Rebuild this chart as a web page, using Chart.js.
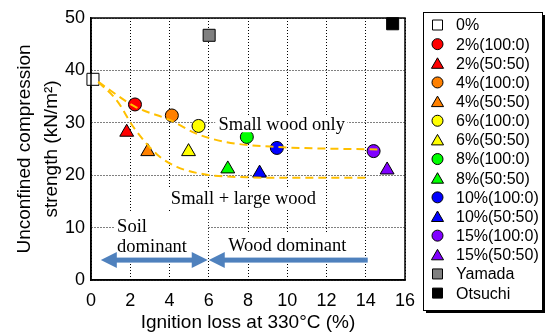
<!DOCTYPE html>
<html>
<head>
<meta charset="utf-8">
<script src="https://cdn.jsdelivr.net/npm/chart.js@4.4.0/dist/chart.umd.min.js"></script>
<style>
  body { margin: 0; background: #fff; }
  #wrap { width: 548px; height: 333px; }
</style>
</head>
<body>
<div id="wrap"><canvas id="ucsChart" width="548" height="333"></canvas></div>
<script>
// series
var seriesNames = ['0%', '2%(100:0)', '2%(50:50)', '4%(100:0)', '4%(50:50)', '6%(100:0)', '6%(50:50)',
  '8%(100:0)', '8%(50:50)', '10%(100:0)', '10%(50:50)', '15%(100:0)', '15%(50:50)', 'Yamada', 'Otsuchi'];
var ignitionLoss = [0.1, 2.24, 1.82, 4.12, 2.89, 5.48, 4.97, 7.94, 6.97, 9.47, 8.59, 14.4, 15.09, 6.02, 15.37];
var strength = [38.3, 33.5, 28.2, 31.4, 24.5, 29.4, 24.5, 27.3, 21.2, 25.2, 20.4, 24.6, 21.0, 46.7, 48.9];
var fillColors = ['#ffffff', '#ff0000', '#ff0000', '#ff8000', '#ff8000', '#ffff00', '#ffff00',
  '#00ff00', '#00ff00', '#0000ff', '#0000ff', '#8000ff', '#8000ff', '#808080', '#000000'];
var shapes = ['rect', 'circle', 'triangle', 'circle', 'triangle', 'circle', 'triangle',
  'circle', 'triangle', 'circle', 'triangle', 'circle', 'triangle', 'rect', 'rect'];

// dashed trend curves
var upperCurveX = [0.37, 2.24, 4.03, 5.39, 6.92, 9.47, 14.74];
var upperCurveY = [37.8, 33.1, 30.5, 27.9, 26.3, 25.4, 24.9];
var lowerCurveX = [0.37, 1.31, 2.16, 3.35, 4.37, 5.9, 8.0, 10.0, 14.07];
var lowerCurveY = [37.8, 34.3, 29.2, 24.0, 21.6, 20.1, 19.6, 19.5, 19.5];

var xTicksStep = 2, xMax = 16;
var yTicksStep = 10, yMax = 50;

var sans = "'Liberation Sans', Arial, sans-serif";
var serif = "'Liberation Serif', 'Times New Roman', serif";
Chart.defaults.font.family = sans;
Chart.defaults.color = '#000';

function radiusFor(shape) {
  if (shape == 'rect') return 8.5;
  if (shape == 'triangle') return 8;
  return 6.5;
}

var datasets = [];
for (var i = 0; i < seriesNames.length; i++) {
  datasets.push({
    label: seriesNames[i],
    data: [{x: ignitionLoss[i], y: strength[i]}],
    pointStyle: shapes[i],
    pointRadius: radiusFor(shapes[i]),
    pointHoverRadius: radiusFor(shapes[i]),
    backgroundColor: fillColors[i],
    borderColor: '#000',
    pointBorderWidth: 1,
    showLine: false,
    clip: false,
    order: 1
  });
}

function curveData(xs, ys) {
  var out = [];
  for (var i = 0; i < xs.length; i++) out.push({x: xs[i], y: ys[i]});
  return out;
}
[[upperCurveX, upperCurveY], [lowerCurveX, lowerCurveY]].forEach(function (c) {
  datasets.push({
    label: '_curve',
    type: 'line',
    data: curveData(c[0], c[1]),
    borderColor: '#ffc000',
    borderWidth: 2,
    borderDash: [8, 5],
    pointRadius: 0,
    tension: 0.4,
    cubicInterpolationMode: 'monotone',
    fill: false,
    order: -1
  });
});

// text notes on the plot (anchor in data units, white box behind)
var notes = [
  {lines: ['Small wood only'], x: 9.72, y: 29.5, align: 'center', box: [6.33, 13.06, 28.2, 31.4]},
  {lines: ['Small + large wood'], x: 7.77, y: 15.4, align: 'center', box: [3.93, 11.58, 13.7, 17.5]},
  {lines: ['Soil', 'dominant'], x: 1.33, y: 10.0, align: 'left', box: [1.22, 5.97, 4.4, 12.8], step: 3.8},
  {lines: ['Wood dominant'], x: 10.0, y: 6.5, align: 'center', box: [6.07, 13.2, 4.4, 9.0]}
];
var arrows = [
  {from: 0.5, to: 5.95, y: 3.8, both: true},
  {from: 14.1, to: 6.0, y: 3.8, both: false}
];

function drawShape(ctx, shape, x, y, r) {
  ctx.beginPath();
  if (shape == 'circle') {
    ctx.arc(x, y, r, 0, Math.PI * 2);
  } else if (shape == 'triangle') {
    var w = r * 0.866;
    ctx.moveTo(x, y - r);
    ctx.lineTo(x + w, y + r / 2);
    ctx.lineTo(x - w, y + r / 2);
    ctx.closePath();
  } else {
    ctx.rect(x - r, y - r, r * 2, r * 2);
  }
  ctx.fill();
  ctx.stroke();
}

function arrowHead(ctx, tipX, y, dir) {
  ctx.beginPath();
  ctx.moveTo(tipX, y);
  ctx.lineTo(tipX + dir * 16, y - 8);
  ctx.lineTo(tipX + dir * 16, y + 8);
  ctx.closePath();
  ctx.fill();
}

var extras = {
  id: 'extras',
  afterDatasetsDraw: function (chart) {
    var ctx = chart.ctx, xs = chart.scales.x, ys = chart.scales.y, area = chart.chartArea;
    ctx.save();
    // notes
    notes.forEach(function (n) {
      var bx0 = xs.getPixelForValue(n.box[0]), bx1 = xs.getPixelForValue(n.box[1]);
      var by0 = ys.getPixelForValue(n.box[3]), by1 = ys.getPixelForValue(n.box[2]);
      ctx.fillStyle = '#fff';
      ctx.fillRect(bx0, by0, bx1 - bx0, by1 - by0);
      ctx.fillStyle = '#000';
      ctx.font = '18.5px ' + serif;
      ctx.textAlign = n.align;
      ctx.textBaseline = 'middle';
      n.lines.forEach(function (t, k) {
        ctx.fillText(t, xs.getPixelForValue(n.x), ys.getPixelForValue(n.y - k * (n.step || 0)));
      });
    });
    // arrows
    ctx.fillStyle = '#4f81bd';
    arrows.forEach(function (a) {
      var y = ys.getPixelForValue(a.y);
      var p0 = xs.getPixelForValue(a.from), p1 = xs.getPixelForValue(a.to);
      var dir = p1 > p0 ? -1 : 1;
      var s0 = a.both ? p0 - dir * 14 : p0;
      var s1 = p1 + dir * 14;
      ctx.fillRect(Math.min(s0, s1), y - 2.5, Math.abs(s1 - s0), 5);
      arrowHead(ctx, p1, y, dir);
      if (a.both) arrowHead(ctx, p0, y, -dir);
    });
    // frame
    ctx.strokeStyle = '#000';
    ctx.lineWidth = 1.5;
    ctx.strokeRect(area.left, area.top, area.right - area.left, area.bottom - area.top);

    // legend
    var lx0 = 423, ly0 = 12, lw = 119, lh = 298;
    ctx.fillStyle = '#000';
    ctx.fillRect(lx0 + 3, ly0 + 3, lw, lh);
    ctx.fillStyle = '#fff';
    ctx.fillRect(lx0, ly0, lw, lh);
    ctx.lineWidth = 1;
    ctx.strokeRect(lx0 + 0.5, ly0 + 0.5, lw, lh);
    ctx.font = '16px ' + sans;
    ctx.textAlign = 'left';
    ctx.textBaseline = 'middle';
    for (var i = 0; i < seriesNames.length; i++) {
      var y = 25 + i * 19.15;
      ctx.fillStyle = fillColors[i];
      ctx.strokeStyle = '#000';
      ctx.lineWidth = 1;
      var r = shapes[i] == 'circle' ? 5.5 : (shapes[i] == 'triangle' ? 7 : 5);
      drawShape(ctx, shapes[i], 437.5, shapes[i] == 'triangle' ? y + 1.5 : y, r);
      ctx.fillStyle = '#000';
      ctx.fillText(seriesNames[i], 456, y + 1);
    }
    ctx.restore();
  }
};

var ctx = document.getElementById('ucsChart').getContext('2d');
var ucsChart = new Chart(ctx, {
  type: 'scatter',
  data: {datasets: datasets},
  options: {
    responsive: false,
    animation: false,
    layout: {padding: {left: 0, top: 18, right: 143, bottom: 0}},
    plugins: {legend: {display: false}, tooltip: {enabled: false}},
    scales: {
      x: {
        type: 'linear', min: 0, max: xMax,
        ticks: {stepSize: xTicksStep, padding: 10, font: {size: 18}, color: '#000'},
        grid: {color: '#000', lineWidth: 1, drawTicks: false},
        border: {color: '#000', width: 1.5, dash: [1, 2]},
        title: {display: true, text: 'Ignition loss at 330°C (%)', font: {size: 19, lineHeight: 1.05}, padding: {top: 0, bottom: 0}, color: '#000'},
        afterFit: function (s) { s.height = 53; }
      },
      y: {
        type: 'linear', min: 0, max: yMax,
        ticks: {stepSize: yTicksStep, padding: 6, font: {size: 18}, color: '#000'},
        grid: {color: '#000', lineWidth: 1, drawTicks: false},
        border: {color: '#000', width: 1.5, dash: [1, 2]},
        title: {display: true, text: ['Unconfined compression', 'strength (kN/m²)'], font: {size: 19, lineHeight: 1.42}, padding: {top: 11, bottom: 0}, color: '#000'},
        afterFit: function (s) { s.width = 91; }
      }
    }
  },
  plugins: [extras]
});
</script>
</body>
</html>
